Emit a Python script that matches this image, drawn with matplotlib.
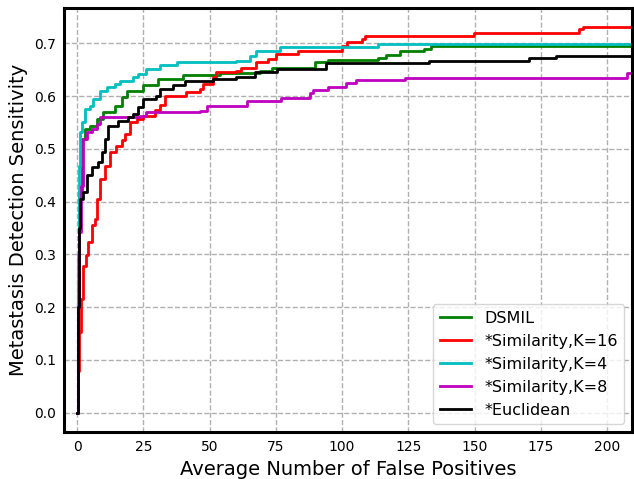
import matplotlib
matplotlib.use("Agg")
import matplotlib.pyplot as plt

# step points (x = avg false positives, y = sensitivity)
dsmil_x = [0, 0.3, 0.7, 1.6, 2.9, 4.8, 7.3, 9.8, 14.2, 16.7, 18.6, 24.9, 30.5, 40, 53.8, 68.9,
           73.5, 89.6, 94.7, 113.5, 116.7, 121.7, 131, 133.6, 209.5]
dsmil_y = [0, 0.25, 0.42, 0.519, 0.538, 0.544, 0.557, 0.569, 0.582, 0.598, 0.61, 0.62, 0.632,
           0.639, 0.644, 0.648, 0.653, 0.664, 0.668, 0.673, 0.678, 0.685, 0.69, 0.6955, 0.6955]

sim16_x = [0, 0.4, 0.75, 1.4, 2.3, 3.2, 4.1, 5.4, 6.7, 7.3, 8.5, 10.4, 12.3, 14.8, 16.7, 18, 19.9,
           22.4, 24.9, 29.3, 31.2, 33.1, 41.2, 46.3, 47.5, 51.3, 52.5, 60.1, 62, 67.6, 72,
           75.2, 83.3, 99.9, 101.8, 107.5, 108.8, 149.9, 189.5, 190.8, 209.5]
sim16_y = [0, 0.08, 0.153, 0.216, 0.279, 0.298, 0.323, 0.355, 0.368, 0.405, 0.443, 0.468, 0.494,
           0.506, 0.516, 0.528, 0.55, 0.557, 0.563, 0.573, 0.583, 0.601, 0.607, 0.614, 0.623,
           0.636, 0.645, 0.648, 0.654, 0.664, 0.67, 0.679, 0.686, 0.6955, 0.702, 0.708, 0.714,
           0.719, 0.727, 0.73, 0.73]

sim4_x = [0, 0.2, 0.5, 1.0, 1.6, 2.9, 4.8, 6, 8.5, 11.1, 14.2, 16.1, 21.1, 23, 26.1, 31.2, 37.5,
          60.1, 65.1, 67.6, 76.4, 113.5, 209.5]
sim4_y = [0, 0.3, 0.468, 0.532, 0.55, 0.576, 0.582, 0.595, 0.61, 0.617, 0.623, 0.629, 0.636,
          0.642, 0.651, 0.658, 0.664, 0.667, 0.676, 0.686, 0.692, 0.698, 0.698]

sim8_x = [0, 0.3, 0.6, 1.3, 2.3, 3.5, 5.4, 7.3, 8.5, 19.9, 23.6, 26.1, 46.3, 48.8, 63.9, 77,
          87.7, 89, 94.7, 101.6, 105.4, 123.6, 207.7, 209.5]
sim8_y = [0, 0.2, 0.342, 0.43, 0.519, 0.532, 0.538, 0.547, 0.56, 0.56, 0.563, 0.569, 0.571,
          0.582, 0.591, 0.597, 0.606, 0.612, 0.618, 0.624, 0.63, 0.635, 0.644, 0.644]

eucl_x = [0, 0.3, 0.7, 1, 2.3, 3.5, 5.4, 7.9, 9.2, 10.4, 11.7, 15.5, 19.2, 21.1, 23, 24.9, 29.9,
          31.2, 36.2, 40.6, 51.3, 60.1, 67, 75.6, 93.8, 132.9, 170.7, 180.7, 209.5]
eucl_y = [0, 0.2, 0.35, 0.405, 0.418, 0.45, 0.465, 0.475, 0.494, 0.519, 0.544, 0.552, 0.56,
          0.566, 0.579, 0.595, 0.601, 0.614, 0.62, 0.629, 0.632, 0.637, 0.646, 0.651, 0.662,
          0.667, 0.672, 0.6765, 0.6765]

fig, ax = plt.subplots(figsize=(6.34, 4.79), dpi=100)
fig.subplots_adjust(left=0.101, right=0.997, top=0.983, bottom=0.098)

ax.step(dsmil_x, dsmil_y, where="post", color="g", lw=2, label="DSMIL")
ax.step(sim16_x, sim16_y, where="post", color="r", lw=2, label="*Similarity,K=16")
ax.step(sim4_x, sim4_y, where="post", color="c", lw=2, label="*Similarity,K=4")
ax.step(sim8_x, sim8_y, where="post", color="m", lw=2, label="*Similarity,K=8")
ax.step(eucl_x, eucl_y, where="post", color="k", lw=2, label="*Euclidean")

ax.set_xlim(-5, 209.5)
ax.set_xticks([0, 25, 50, 75, 100, 125, 150, 175, 200])
ax.set_yticks([0.0, 0.1, 0.2, 0.3, 0.4, 0.5, 0.6, 0.7])
ax.grid(True, linestyle="--", color="#b0b0b0", lw=1)
ax.tick_params(length=0, labelsize=10, pad=6)
for s in ax.spines.values():
    s.set_linewidth(2.2)
ax.set_xlabel("Average Number of False Positives", fontsize=14)
ax.set_ylabel("Metastasis Detection Sensitivity", fontsize=14)
ax.legend(loc="lower right", fontsize=11.5)

plt.savefig("out.png")
